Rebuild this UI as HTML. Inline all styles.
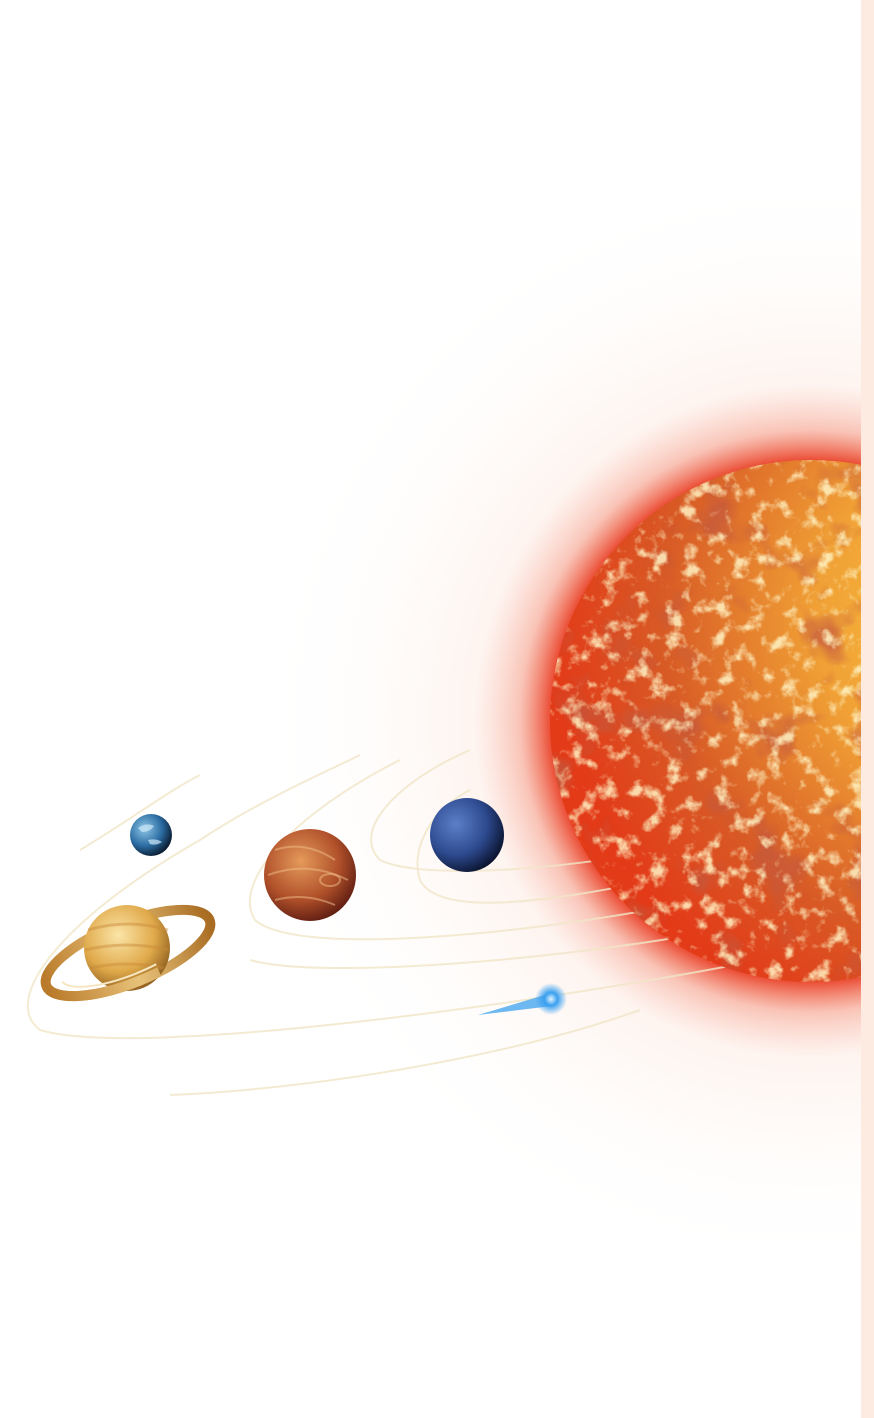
<!DOCTYPE html>
<html><head><meta charset="utf-8"><style>
html,body{margin:0;padding:0;background:#fff;}
svg{display:block}
</style></head><body>
<svg width="874" height="1418" viewBox="0 0 874 1418" xmlns="http://www.w3.org/2000/svg">
<defs>
 <radialGradient id="glow" cx="811" cy="721" r="560" gradientUnits="userSpaceOnUse">
  <stop offset="0.46" stop-color="#e8341a" stop-opacity="0.95"/>
  <stop offset="0.52" stop-color="#f06a4a" stop-opacity="0.4"/>
  <stop offset="0.6" stop-color="#fbd2c0" stop-opacity="0.25"/>
  <stop offset="0.8" stop-color="#fde8dd" stop-opacity="0.1"/>
  <stop offset="1" stop-color="#fff" stop-opacity="0"/>
 </radialGradient>
 <radialGradient id="sun" cx="0.85" cy="0.3" r="0.85">
  <stop offset="0" stop-color="#fbc840"/>
  <stop offset="0.4" stop-color="#f0a035"/>
  <stop offset="0.75" stop-color="#d85a25"/>
  <stop offset="1" stop-color="#e33a18"/>
 </radialGradient>
 <filter id="tex" x="0" y="0" width="1" height="1">
  <feTurbulence type="fractalNoise" baseFrequency="0.06" numOctaves="4" seed="3"/>
  <feColorMatrix type="matrix" values="0 0 0 0 1  0 0 0 0 0.9  0 0 0 0 0.55  0 0 0 4 -2.1"/>
 </filter>
 <filter id="tex2" x="0" y="0" width="1" height="1">
  <feTurbulence type="fractalNoise" baseFrequency="0.02" numOctaves="3" seed="8"/>
  <feColorMatrix type="matrix" values="0 0 0 0 0.55  0 0 0 0 0.1  0 0 0 0 0.05  0 0 0 4 -2.2"/>
 </filter>
 <clipPath id="sunclip"><circle cx="811" cy="721" r="261"/></clipPath>
 <radialGradient id="neptune" cx="0.35" cy="0.35" r="0.7"><stop offset="0" stop-color="#5c7fc9"/><stop offset="0.6" stop-color="#2d4a8f"/><stop offset="1" stop-color="#0b1430"/></radialGradient>
 <radialGradient id="earth" cx="0.35" cy="0.35" r="0.7"><stop offset="0" stop-color="#8cc6e8"/><stop offset="0.6" stop-color="#2a6aa0"/><stop offset="1" stop-color="#0a1a2c"/></radialGradient>
 <radialGradient id="mars" cx="0.4" cy="0.35" r="0.7"><stop offset="0" stop-color="#e59a5a"/><stop offset="0.6" stop-color="#b0502a"/><stop offset="1" stop-color="#5a1a10"/></radialGradient>
 <radialGradient id="saturn" cx="0.4" cy="0.35" r="0.7"><stop offset="0" stop-color="#fbe5a8"/><stop offset="0.6" stop-color="#e0a94a"/><stop offset="1" stop-color="#8a5a1c"/></radialGradient>
 <linearGradient id="ring" x1="0" x2="1"><stop offset="0" stop-color="#b97a2a"/><stop offset="0.5" stop-color="#e8c27a"/><stop offset="1" stop-color="#a86c22"/></linearGradient>
 <radialGradient id="comet" cx="0.5" cy="0.5" r="0.5"><stop offset="0" stop-color="#e0f4ff"/><stop offset="0.4" stop-color="#3aa0f0"/><stop offset="1" stop-color="#3aa0f0" stop-opacity="0"/></radialGradient>
 <clipPath id="frontring"><rect x="30" y="955" width="120" height="60"/></clipPath>
</defs>
<rect width="874" height="1418" fill="#fff"/>
<rect width="874" height="1418" fill="url(#glow)"/>
<g fill="none" stroke="#f1e6c8" stroke-width="2" opacity="0.8">
 <path d="M660 850 C560 870 420 880 380 860 C350 830 400 780 470 750"/>
 <path d="M680 875 C560 900 440 920 420 880 C410 850 430 810 470 790"/>
 <path d="M700 900 C560 930 300 960 255 920 C230 880 300 810 400 760"/>
 <path d="M720 930 C560 960 320 980 250 960"/>
 <path d="M760 960 C560 1000 140 1060 40 1030 C0 1000 60 920 200 840 C260 800 330 770 360 755"/>
 <path d="M640 1010 C500 1060 300 1090 170 1095"/>
 <path d="M80 850 C130 820 170 790 200 775"/>
</g>
<g>
 <circle cx="811" cy="721" r="261" fill="url(#sun)"/>
 <rect x="550" y="460" width="522" height="522" filter="url(#tex2)" clip-path="url(#sunclip)" opacity="0.7"/>
 <rect x="550" y="460" width="522" height="522" filter="url(#tex)" clip-path="url(#sunclip)" opacity="0.85"/>
</g>
<rect x="861" y="0" width="13" height="1418" fill="#fdeae0"/>
<circle cx="467" cy="835" r="37" fill="url(#neptune)"/>
<g>
 <circle cx="151" cy="835" r="21" fill="url(#earth)"/>
 <path d="M138 828 q8 -6 16 -2 q-4 6 -12 6 z M148 840 q8 -2 14 2 q-6 4 -12 2 z" fill="#cfe8f6" opacity="0.7"/>
</g>
<g>
 <circle cx="310" cy="875" r="46" fill="url(#mars)"/>
 <path d="M275 850 q30 -10 60 10 M268 875 q40 -15 80 5 M275 900 q30 -8 60 5" fill="none" stroke="#f0c08a" stroke-width="2" opacity="0.5"/>
 <ellipse cx="330" cy="880" rx="10" ry="6" fill="none" stroke="#f0c08a" stroke-width="2" opacity="0.5"/>
</g>
<g>
 <ellipse cx="128" cy="953" rx="88" ry="30" transform="rotate(-22 128 953)" fill="none" stroke="url(#ring)" stroke-width="10"/>
 <circle cx="127" cy="948" r="43" fill="url(#saturn)"/>
 <path d="M88 930 q40 -12 80 0 M85 950 q42 -10 84 0 M90 968 q38 -8 74 0" fill="none" stroke="#c88a3a" stroke-width="3" opacity="0.45"/>
 <ellipse cx="128" cy="953" rx="88" ry="30" transform="rotate(-22 128 953)" fill="none" stroke="url(#ring)" stroke-width="10" clip-path="url(#frontring)"/>
 <ellipse cx="128" cy="953" rx="72" ry="22" transform="rotate(-22 128 953)" fill="none" stroke="#f6e6c0" stroke-width="2" clip-path="url(#frontring)"/>
</g>
<g>
 <polygon points="478,1015 548,994 552,1006" fill="#4aa8f0" opacity="0.8"/>
 <circle cx="551" cy="999" r="16" fill="url(#comet)"/>
</g>
</svg>
</body></html>
